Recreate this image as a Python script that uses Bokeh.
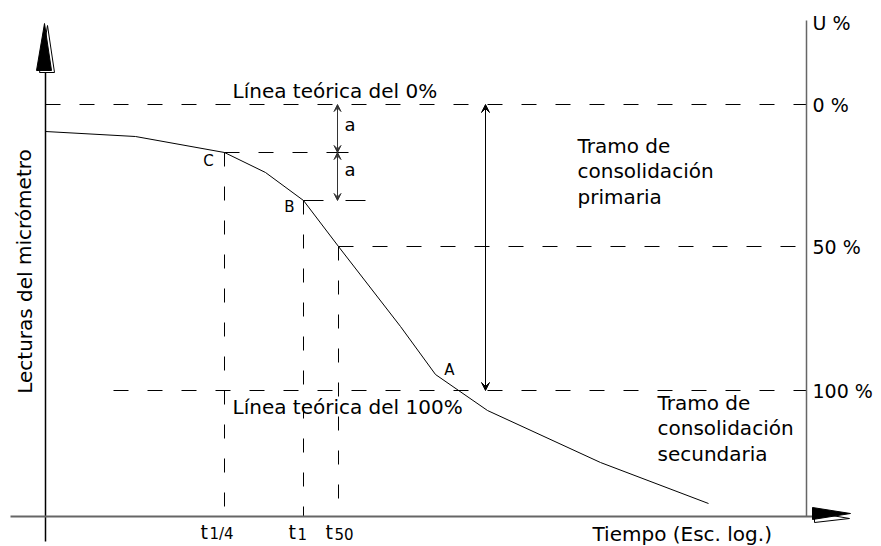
from bokeh.plotting import figure
from bokeh.models import Range1d, Arrow, VeeHead, Label
from bokeh.embed import file_html
from bokeh.resources import INLINE

# --- schematic data (drawing units = page pixels, y downwards) ---
curve_t = [45, 135, 224, 265, 303, 338, 400, 435, 487, 600, 708]
curve_r = [131, 136, 152, 172, 200, 246, 326, 374, 410, 462, 503]

u_levels = [104, 246, 390]
u_labels = ["0 %", "50 %", "100 %"]
u_line_start = [45, 338, 113]

t_points = [224, 303, 338]
t_from = [152, 200, 246]
t_main = ["t", "t", "t"]
t_sub = ["1/4", "1", "50"]

point_names = ["C", "B", "A"]
point_x = [208, 289, 449]
point_y = [160, 206, 369]

FONT = "DejaVu Sans"

p = figure(width=881, height=546, output_backend="svg", toolbar_location=None,
           x_range=Range1d(0, 881), y_range=Range1d(546, 0),
           min_border=0, min_border_left=0, min_border_right=0,
           min_border_top=0, min_border_bottom=0)
p.axis.visible = False
p.grid.visible = False
p.outline_line_color = None
p.background_fill_color = "white"
p.border_fill_color = "white"

DASH = "15 19"

# horizontal dashed U lines
for y0, xs in zip(u_levels, u_line_start):
    p.segment(x0=xs, y0=y0, x1=806, y1=y0, line_color="black", line_width=1, line_dash=DASH)

# dashed construction lines at C and B
p.segment(x0=224, y0=152, x1=348, y1=152, line_color="black", line_width=1, line_dash=DASH)
p.segment(x0=303, y0=200, x1=365, y1=200, line_color="black", line_width=1, line_dash="20 22")

# vertical dashed lines to time axis
for tx, ty in zip(t_points, t_from):
    p.segment(x0=tx, y0=ty, x1=tx, y1=516, line_color="black", line_width=1, line_dash="14 20")

# axes
p.line(x=[45, 45], y=[72, 541], line_color="black", line_width=1.5)
p.line(x=[10, 812], y=[516, 516], line_color="#666666", line_width=2)
p.line(x=[806, 806], y=[20, 516], line_color="#666666", line_width=1.5)

# axis arrowheads
p.patch(x=[47, 39, 54], y=[25, 72, 72], fill_color="white", line_color="black", line_width=1)
p.patch(x=[44, 36, 51], y=[23, 70, 70], fill_color="black", line_color="black", line_width=1)
p.patch(x=[814, 814, 849], y=[512, 522, 518], fill_color="white", line_color="black", line_width=1)
p.patch(x=[812, 812, 850], y=[507, 519, 513], fill_color="black", line_color="black", line_width=1)

# consolidation curve
p.line(x=curve_t, y=curve_r, line_color="black", line_width=1)

# "a" arrows
for ya, yb in [(104, 152), (152, 200)]:
    p.add_layout(Arrow(x_start=337, y_start=ya, x_end=337, y_end=yb,
                       start=VeeHead(size=7, line_color="#333333", line_width=1, fill_color="#333333"),
                       end=VeeHead(size=7, line_color="#333333", line_width=1, fill_color="#333333"),
                       line_color="#333333", line_width=1))
p.segment(x0=332, y0=152, x1=348, y1=152, line_color="black", line_width=1)

# primary consolidation arrow
p.add_layout(Arrow(x_start=485, y_start=104, x_end=485, y_end=390,
                   start=VeeHead(size=8, line_color="black", line_width=1, fill_color="black"),
                   end=VeeHead(size=8, line_color="black", line_width=1, fill_color="black"),
                   line_color="black", line_width=1))

def txt(x, y, s, size=20, align="left", angle=0.0, baseline="middle", color="black"):
    p.add_layout(Label(x=x, y=y, text=s, text_font=FONT, text_font_size=f"{size}px",
                       text_align=align, text_baseline=baseline, angle=angle,
                       text_color=color))

# right axis labels
txt(812, 22, "U %", size=19)
for y0, lab in zip(u_levels, u_labels):
    txt(812, y0, lab, size=19)

# point labels
for n, x0, y0 in zip(point_names, point_x, point_y):
    txt(x0, y0, n, size=15, align="center")

# annotations
txt(232, 90, "Línea teórica del 0%")
txt(232, 406, "Línea teórica del 100%")
txt(344, 124, "a", size=18)
txt(344, 169, "a", size=18)
for i, s in enumerate(["Tramo de", "consolidación", "primaria"]):
    txt(577, 145 + 25.5 * i, s)
for i, s in enumerate(["Tramo de", "consolidación", "secundaria"]):
    txt(657, 402 + 25.5 * i, s)
txt(592, 533, "Tiempo (Esc. log.)")
txt(24, 271, "Lecturas del micrómetro", angle=1.5708, align="center")

# time tick labels with subscripts
t_label_x = [200, 288, 325]
for x0, m, s in zip(t_label_x, t_main, t_sub):
    txt(x0, 531, m, size=19)
    txt(x0 + 9, 533, s, size=15)

open("out.html", "w").write(file_html(p, INLINE))
